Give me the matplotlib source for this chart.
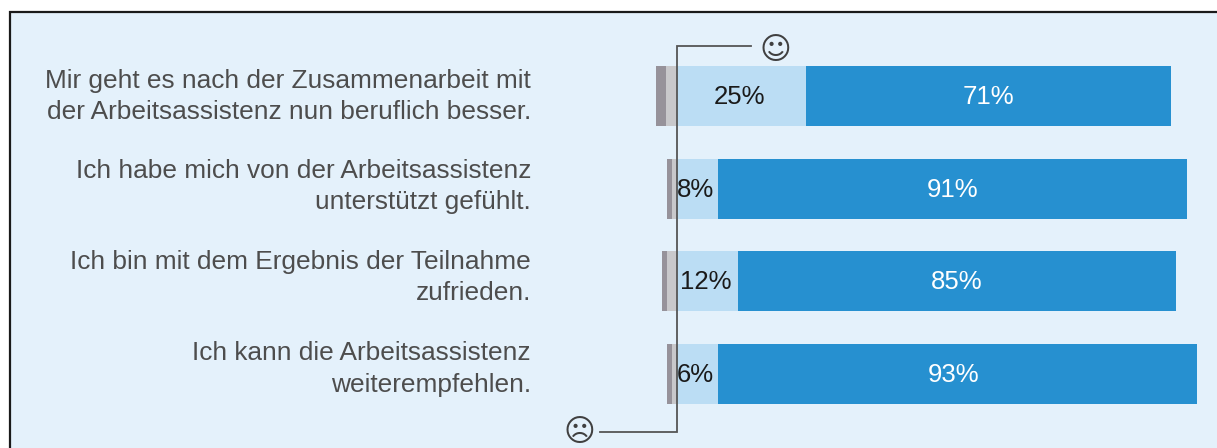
import matplotlib
matplotlib.use('Agg')
import matplotlib.pyplot as plt
from matplotlib.patches import Rectangle

# Werte
aussagen = [
    'Mir geht es nach der Zusammenarbeit mit\nder Arbeitsassistenz nun beruflich besser.',
    'Ich habe mich von der Arbeitsassistenz\nunterstützt gefühlt.',
    'Ich bin mit dem Ergebnis der Teilnahme\nzufrieden.',
    'Ich kann die Arbeitsassistenz\nweiterempfehlen.',
]
gar_nicht = [2.0, 1.0, 0.9, 1.0]
eher_nicht = [2.2, 1.1, 2.1, 1.1]
# Balkenlängen wie gezeichnet; der 6%-Balken ist im Original so breit wie der 8%-Balken
eher_ja = [25, 7.9, 11.8, 7.9]
sehr = [71, 91.3, 85.2, 93.2]
eher_ja_labels = ['25%', '8%', '12%', '6%']
sehr_labels = ['71%', '91%', '85%', '93%']

W, H = 1217, 448
PX_PRO_PROZENT = 5.14
NULL_X = 677.5

plt.rcParams['font.family'] = ['Liberation Sans', 'DejaVu Sans']


def px_x(px):
    return (px - NULL_X) / PX_PRO_PROZENT


def px_y(py):
    # Zeile 0 liegt bei y=96, Abstand 92.67 px
    return (py - 96) / 92.67


def main():
    fig = plt.figure(figsize=(W / 100, H / 100), dpi=100, facecolor='white')
    ax = fig.add_axes([0, 0, 1, 1])
    ax.set_xlim(px_x(0), px_x(W))
    ax.set_ylim(px_y(H), px_y(0))
    ax.axis('off')

    # Hintergrundfeld mit schwarzem Rand (läuft rechts und unten aus dem Bild)
    ax.add_patch(Rectangle((px_x(10), px_y(12)), px_x(W + 20) - px_x(10), px_y(H + 20) - px_y(12),
                           facecolor='#e4f1fb', edgecolor='#1a1a1a', linewidth=1.6, zorder=0))

    hoehe = 60 / 92.67
    y_text = 1 / 92.67
    # Die Beschriftungen links haben im Original einen etwas engeren Zeilenabstand als die Balken
    text_mitte = [96.5, 186.5, 277.5, 369]
    for i, text in enumerate(aussagen):
        links = -(gar_nicht[i] + eher_nicht[i])
        ax.barh(i, gar_nicht[i], left=links, height=hoehe, color='#96929a', zorder=2)
        ax.barh(i, eher_nicht[i], left=links + gar_nicht[i], height=hoehe, color='#c8c8cb', zorder=2)
        ax.barh(i, eher_ja[i], height=hoehe, color='#bbddf4', zorder=2)
        ax.barh(i, sehr[i], left=eher_ja[i], height=hoehe, color='#2690d0', zorder=2)

        ax.text(eher_ja[i] / 2 - 0.5, i + y_text, eher_ja_labels[i], ha='center', va='center',
                fontsize=18.5, color='#1a1a1a', zorder=5)
        # 93% steht im Original etwas links der Balkenmitte
        versatz = -0.8 if i == 3 else 0
        ax.text(eher_ja[i] + sehr[i] / 2 + versatz, i + y_text, sehr_labels[i], ha='center', va='center',
                fontsize=18.5, color='white', zorder=5)
        ax.text(px_x(531), px_y(text_mitte[i]), text, ha='right', va='center', fontsize=18.9,
                color='#4d4d4d', linespacing=1.38, zorder=3)

    # Achse mit den beiden Smileys
    ax.plot([px_x(751), 0, 0, px_x(600)],
            [px_y(46), px_y(46), px_y(432), px_y(432)],
            color='#555555', linewidth=1.3, solid_joinstyle='miter', zorder=4)
    ax.text(px_x(775), px_y(50), '\u263a', ha='center', va='center', fontsize=22,
            family='DejaVu Sans', color='#404040', zorder=4)
    ax.text(px_x(579.5), px_y(432), '\u2639', ha='center', va='center', fontsize=22,
            family='DejaVu Sans', color='#404040', zorder=4)

    fig.savefig('out.png', dpi=100)


if __name__ == "__main__":
    main()
